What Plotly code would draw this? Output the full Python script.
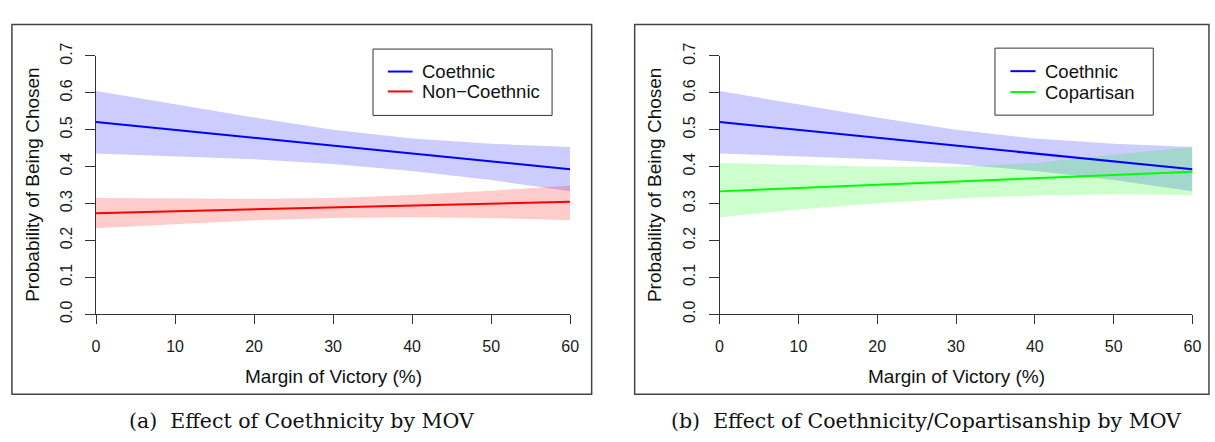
import plotly.graph_objects as go

# ---------------- data ----------------
mov = [0, 10, 20, 30, 40, 50, 60]  # Margin of Victory (%)

coethnic_fit = [0.521, 0.500, 0.479, 0.457, 0.436, 0.415, 0.393]
coethnic_hi = [0.605, 0.568, 0.533, 0.500, 0.476, 0.462, 0.453]
coethnic_lo = [0.436, 0.429, 0.420, 0.407, 0.388, 0.364, 0.333]

noncoethnic_fit = [0.274, 0.279, 0.284, 0.289, 0.295, 0.300, 0.305]
noncoethnic_hi = [0.315, 0.314, 0.313, 0.315, 0.323, 0.335, 0.348]
noncoethnic_lo = [0.233, 0.244, 0.255, 0.261, 0.263, 0.261, 0.255]

copartisan_fit = [0.333, 0.342, 0.350, 0.359, 0.368, 0.377, 0.386]
copartisan_hi = [0.410, 0.405, 0.400, 0.400, 0.410, 0.432, 0.453]
copartisan_lo = [0.263, 0.284, 0.301, 0.314, 0.322, 0.325, 0.323]

x_ticks = [0, 10, 20, 30, 40, 50, 60]
y_ticks = [0.0, 0.1, 0.2, 0.3, 0.4, 0.5, 0.6, 0.7]

names_a = ["Coethnic", "Non\u2212Coethnic"]
names_b = ["Coethnic", "Copartisan"]
caption_a = "(a)\u00a0 Effect of Coethnicity by MOV"
caption_b = "(b)\u00a0 Effect of Coethnicity/Copartisanship by MOV"
x_title = "Margin of Victory (%)"
y_title = "Probability of Being Chosen"

# ---------------- styling ----------------
W, H = 1215, 442
SANS = "Liberation Sans, Arial, sans-serif"
SERIF = "DejaVu Serif, serif"
BLUE, RED, GREEN = "#0000FF", "#FF0000", "#00FF00"
BLUE_F, RED_F, GREEN_F = "rgba(0,0,255,0.2)", "rgba(255,0,0,0.2)", "rgba(0,255,0,0.2)"


def px(x):
    return x / W


def py(y):
    return 1 - y / H


fig = go.Figure()


def band(xa, ya, lo, hi, color):
    fig.add_trace(go.Scatter(
        x=mov + mov[::-1], y=hi + lo[::-1], xaxis=xa, yaxis=ya,
        fill="toself", fillcolor=color, line=dict(width=0),
        mode="lines", showlegend=False, hoverinfo="skip"))


def fit(xa, ya, vals, color, name):
    fig.add_trace(go.Scatter(
        x=mov, y=vals, xaxis=xa, yaxis=ya, mode="lines", name=name,
        line=dict(color=color, width=2), showlegend=False))


# panel (a)
band("x", "y", coethnic_lo, coethnic_hi, BLUE_F)
band("x", "y", noncoethnic_lo, noncoethnic_hi, RED_F)
fit("x", "y", coethnic_fit, BLUE, names_a[0])
fit("x", "y", noncoethnic_fit, RED, names_a[1])
# panel (b)
band("x2", "y2", coethnic_lo, coethnic_hi, BLUE_F)
band("x2", "y2", copartisan_lo, copartisan_hi, GREEN_F)
fit("x2", "y2", coethnic_fit, BLUE, names_b[0])
fit("x2", "y2", copartisan_fit, GREEN, names_b[1])

y_dom = [py(316.7), py(44.3)]
axis_common = dict(showgrid=False, zeroline=False, showline=True, linecolor="#333333",
                   linewidth=1, ticks="outside", tickcolor="#333333", tickwidth=1,
                   tickfont=dict(family=SANS, size=16, color="#1a1a1a"))

xa = dict(range=[0, 60], tickvals=x_ticks, ticklen=9, ticklabelstandoff=9, **axis_common)
ya = dict(range=[0, 0.7], tickvals=y_ticks, tickformat=".1f", tickangle=-90, ticklen=10,
          ticklabelstandoff=7, domain=y_dom, **axis_common)

fig.update_layout(
    width=W, height=H, margin=dict(l=0, r=0, t=0, b=0),
    paper_bgcolor="white", plot_bgcolor="white", showlegend=False,
    xaxis=dict(domain=[px(93), px(572.3)], anchor="y", **xa),
    yaxis=dict(anchor="x", **ya),
    xaxis2=dict(domain=[px(723.3), px(1201.3)], anchor="y2", **xa),
    yaxis2=dict(anchor="x2", **ya),
)

shapes = []
annotations = []

# panel frames
shapes.append(dict(type="rect", xref="paper", yref="paper",
                   x0=px(8), x1=px(594), y0=py(401), y1=py(11),
                   line=dict(color="#444444", width=1.5)))
shapes.append(dict(type="rect", xref="paper", yref="paper",
                   x0=px(637.5), x1=px(1218), y0=py(401), y1=py(11),
                   line=dict(color="#444444", width=1.5)))


def legend(box, line_x, text_x, ys, names, colors):
    x0, y0, x1, y1 = box
    shapes.append(dict(type="rect", xref="paper", yref="paper",
                       x0=px(x0), x1=px(x1), y0=py(y1), y1=py(y0),
                       fillcolor="white", line=dict(color="#333333", width=1)))
    for yy, nm, c in zip(ys, names, colors):
        shapes.append(dict(type="line", xref="paper", yref="paper",
                           x0=px(line_x[0]), x1=px(line_x[1]), y0=py(yy), y1=py(yy),
                           line=dict(color=c, width=2)))
        annotations.append(dict(text=nm, xref="paper", yref="paper", x=px(text_x), y=py(yy),
                                xanchor="left", yanchor="middle", showarrow=False,
                                font=dict(family=SANS, size=18.5, color="#111111")))


legend((373, 37, 554, 107), (388, 413), 421, (60.7, 81.7), names_a, (BLUE, RED))
legend((1001.7, 36, 1161.7, 106.7), (1017.3, 1042.7), 1050, (60.3, 82.3), names_b, (BLUE, GREEN))

# axis titles
for cx, ty_x in ((332.7, 28), (962.3, 657)):
    annotations.append(dict(text=x_title, xref="paper", yref="paper", x=px(cx), y=py(382),
                            xanchor="center", yanchor="middle", showarrow=False,
                            font=dict(family=SANS, size=19, color="#111111")))
    annotations.append(dict(text=y_title, xref="paper", yref="paper", x=px(ty_x), y=py(180.5),
                            xanchor="center", yanchor="middle", showarrow=False, textangle=-90,
                            font=dict(family=SANS, size=19, color="#111111")))

# captions
annotations.append(dict(text=caption_a, xref="paper", yref="paper", x=px(301), y=py(429),
                        xanchor="center", yanchor="middle", showarrow=False,
                        font=dict(family=SERIF, size=20.5, color="#111111")))
annotations.append(dict(text=caption_b, xref="paper", yref="paper", x=px(932), y=py(429),
                        xanchor="center", yanchor="middle", showarrow=False,
                        font=dict(family=SERIF, size=20.5, color="#111111")))

fig.update_layout(shapes=shapes, annotations=annotations)
fig.write_html("out.html", config={"displayModeBar": False},
               post_script="document.body.style.margin='0';document.body.style.overflow='hidden';")
